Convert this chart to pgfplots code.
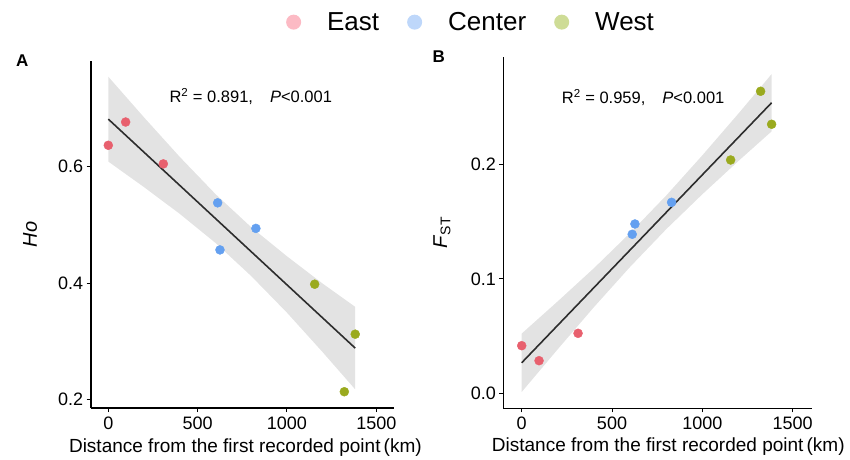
\documentclass[border=0pt]{standalone}
\usepackage{pgfplots}
\pgfplotsset{compat=1.18}
\usepackage{fontspec}
\setmainfont{Liberation Sans}
\definecolor{cEast}{RGB}{232,96,110}
\definecolor{cCenter}{RGB}{100,160,240}
\definecolor{cWest}{RGB}{154,170,30}
\definecolor{lEast}{RGB}{252,186,196}
\definecolor{lCenter}{RGB}{190,215,250}
\definecolor{lWest}{RGB}{206,220,150}
\definecolor{band}{RGB}{227,227,227}
\definecolor{fitline}{RGB}{45,45,45}
\pgfplotsset{
  panel/.style={
    scale only axis,
    axis x line*=bottom, axis y line*=left,
    axis line style={line width=1.6pt, -},
    tick align=outside, major tick length=4pt,
    tick style={line width=1pt, black},
    tick label style={font=\fontsize{18}{20}\selectfont},
    /pgf/number format/assume math mode=true,
    /pgf/number format/1000 sep={},
    xtick={0,500,1000,1500},
    xticklabel style={yshift=-1pt},
    yticklabel style={/pgf/number format/.cd, fixed, fixed zerofill, precision=1},
    xlabel={Distance from the first recorded point\,(km)},
    xlabel style={font=\fontsize{19}{22}\selectfont, anchor=center},
    ylabel style={font=\fontsize{20}{22}\selectfont, anchor=center, rotate=0},
    clip=false,
  },
  mk/.style={only marks, mark=*, mark size=4.5pt, color=#1, mark options={draw=none, fill=#1}},
}
\begin{document}
\begin{tikzpicture}[x=1pt,y=1pt]
\path[use as bounding box] (0,0) rectangle (850,459);
% Panel A
\begin{axis}[panel,
  at={(90.7pt,51pt)}, anchor=south west,
  width=303.3pt, height=347pt,
  xmin=-98.5, xmax=1599, ymin=0.185, ymax=0.782,
  ytick={0.2,0.4,0.6},
  ylabel={\textit{Ho}},
  x label style={at={(axis description cs:0.51,-0.113)}},
  y label style={at={(axis description cs:-0.2,0.5)}},
  legend style={draw=none, fill=none, at={(axis description cs:1.254,1.112)}, anchor=center,
    legend columns=3, font=\fontsize{26}{28}\selectfont,
    /tikz/every odd column/.append style={column sep=24pt},
    /tikz/every even column/.append style={column sep=26pt}},
  legend image code/.code={\fill[#1,draw=none] (8pt,0pt) circle (7.5pt);},
]
\addlegendimage{fill=lEast}
\addlegendentry{East}
\addlegendimage{fill=lCenter}
\addlegendentry{Center}
\addlegendimage{fill=lWest}
\addlegendentry{West}
\addplot[fill=band, draw=none, forget plot] coordinates {
 (0,0.755) (200,0.685) (400,0.617) (600,0.553) (800,0.496) (1000,0.446) (1200,0.399) (1382,0.359)
 (1382,0.217) (1200,0.281) (1000,0.349) (800,0.412) (600,0.469) (400,0.519) (200,0.565) (0,0.609)};
\addplot[fitline, line width=1.6pt, forget plot] coordinates {(0,0.682) (1382,0.288)};
\addplot[mk=cEast, forget plot] coordinates {(0,0.637) (97,0.677) (308,0.605)};
\addplot[mk=cCenter, forget plot] coordinates {(612,0.538) (625,0.457) (826,0.494)};
\addplot[mk=cWest, forget plot] coordinates {(1155,0.398) (1382,0.312) (1321,0.213)};
\node[anchor=base west, font=\fontsize{16.5}{19}\selectfont] at (axis cs:323,0.7107)
  {R\textsuperscript{2} = 0.891,\hspace{17pt}\textit{P}<0.001};
\node[font=\fontsize{17}{19}\selectfont\bfseries] at (axis description cs:-0.226,1.0) {A};
\end{axis}
% Panel B
\begin{axis}[panel,
  at={(503.3pt,50.7pt)}, anchor=south west,
  width=308.4pt, height=351.6pt,
  xmin=-102, xmax=1606, ymin=-0.0131, ymax=0.294,
  ytick={0,0.1,0.2},
  ylabel={\textit{F}\textsubscript{ST}},
  x label style={at={(axis description cs:0.535,-0.11)}},
  y label style={at={(axis description cs:-0.199,0.5)}},
]
\addplot[fill=band, draw=none] coordinates {
 (0,0.0522) (200,0.0804) (400,0.1093) (600,0.1400) (800,0.1727) (1000,0.2078) (1200,0.2443) (1384,0.2788)
 (1384,0.2288) (1200,0.2029) (1000,0.1738) (800,0.1433) (600,0.1104) (400,0.0753) (200,0.0386) (0,0.0012)};
\addplot[fitline, line width=1.6pt] coordinates {(0,0.0267) (1384,0.2538)};
\addplot[mk=cEast] coordinates {(0,0.0416) (96,0.0285) (312,0.0524)};
\addplot[mk=cCenter] coordinates {(612,0.1389) (627,0.1479) (830,0.1668)};
\addplot[mk=cWest] coordinates {(1157,0.2038) (1323,0.2638) (1384,0.235)};
\node[anchor=base west, font=\fontsize{16.5}{19}\selectfont] at (axis cs:203,0.2533)
  {R\textsuperscript{2} = 0.959,\hspace{17pt}\textit{P}<0.001};
\node[font=\fontsize{17}{19}\selectfont\bfseries] at (axis description cs:-0.209,1.0) {B};
\end{axis}
\end{tikzpicture}
\end{document}
